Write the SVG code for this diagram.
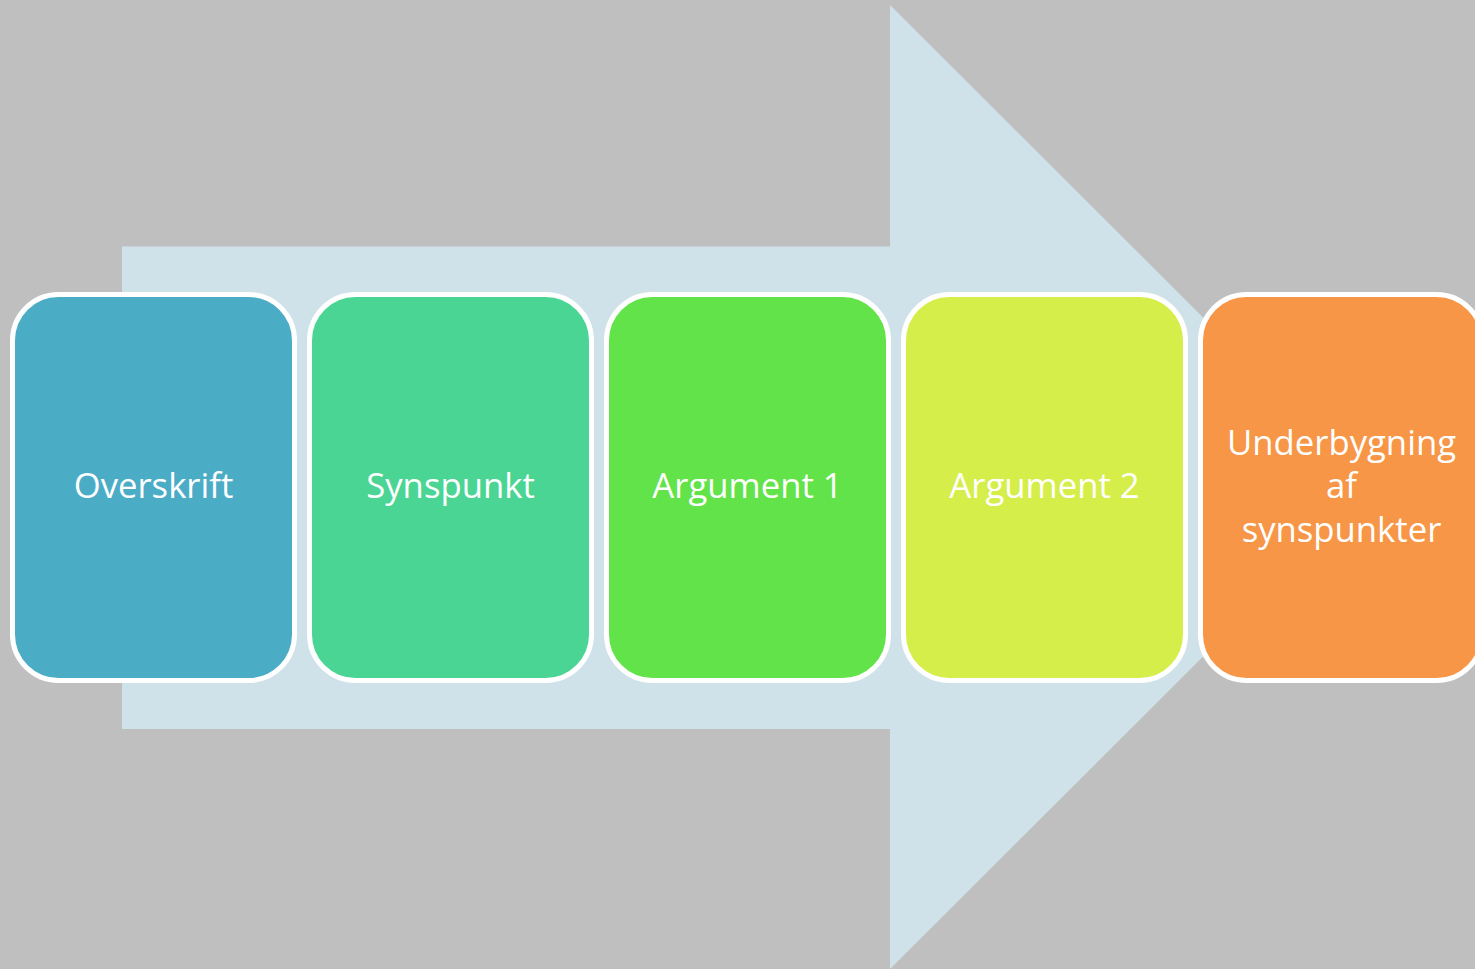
<svg xmlns="http://www.w3.org/2000/svg" width="1475" height="969" viewBox="0 0 1475 969">
<style>
.box{stroke:#FFFFFF;stroke-width:5}
.lbl{font-family:"Open Sans","Noto Sans",sans-serif;font-size:34.7px;fill:#FFFFFF;text-anchor:middle}
</style>
<rect width="1475" height="969" fill="#BFBFBF"/>
<g id="arrow">
<polygon points="122,246.5 890,246.5 890,5 1373,487 890,969 890,729 122,729" fill="#D0E2E9"/>
</g>
<g id="n1"><rect class="box" x="12.5" y="294.5" width="282" height="386" rx="46" fill="#4BACC6"/><text class="lbl" x="153.5" y="498">Overskrift</text></g>
<g id="n2"><rect class="box" x="309.5" y="294.5" width="282" height="386" rx="46" fill="#4AD594"/><text class="lbl" x="450.5" y="498">Synspunkt</text></g>
<g id="n3"><rect class="box" x="606.5" y="294.5" width="282" height="386" rx="46" fill="#62E349"/><text class="lbl" x="747.5" y="498">Argument 1</text></g>
<g id="n4"><rect class="box" x="903.5" y="294.5" width="282" height="386" rx="46" fill="#D5EE49"/><text class="lbl" x="1044.5" y="498">Argument 2</text></g>
<g id="n5"><rect class="box" x="1200.5" y="294.5" width="282" height="386" rx="46" fill="#F79646"/><text class="lbl" x="1341.5" y="455">Underbygning</text><text class="lbl" x="1341.5" y="498">af</text><text class="lbl" x="1341.5" y="542">synspunkter</text></g>
<g id="connectors"/>
</svg>
